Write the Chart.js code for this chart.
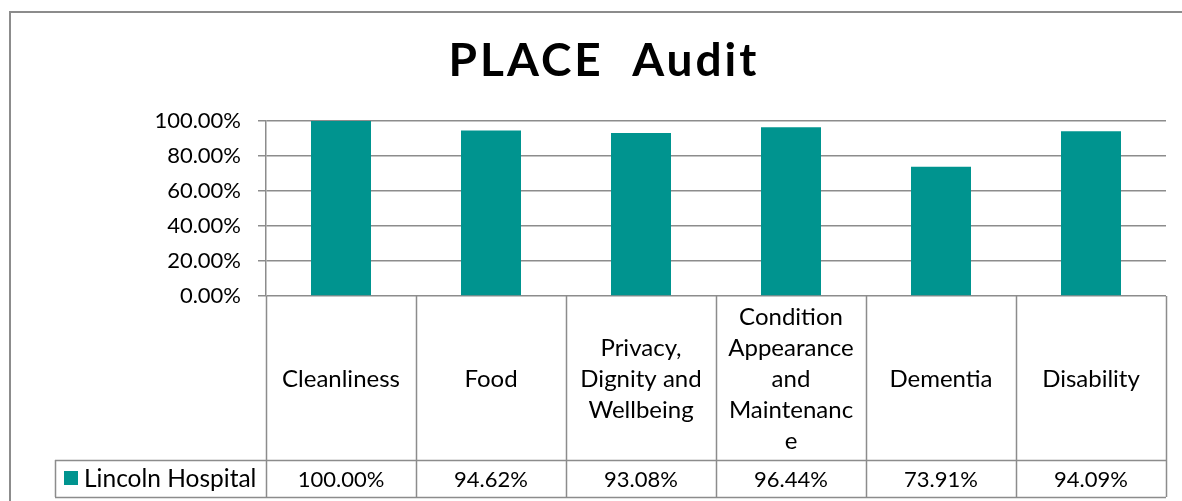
<!DOCTYPE html>
<html>
<head>
<meta charset="utf-8">
<title>PLACE Audit</title>
<script src="https://cdn.jsdelivr.net/npm/chart.js@4/dist/chart.umd.min.js"></script>
<style>
    html, body { margin: 0; padding: 0; background: #ffffff; }
    #chart { display: block; }
</style>
</head>
<body>
<canvas id="chart" width="1182" height="501"></canvas>
<script>
//data
var title = 'PLACE  Audit';
var categories = [
    ['Cleanliness'],
    ['Food'],
    ['Privacy,', 'Dignity and', 'Wellbeing'],
    ['Condition', 'Appearance', 'and', 'Maintenanc', 'e'],
    ['Dementia'],
    ['Disability']
];
var seriesName = 'Lincoln Hospital';
var scores = [1.0, 0.9462, 0.9308, 0.9644, 0.7391, 0.9409];
var yTicks = [0, 0.2, 0.4, 0.6, 0.8, 1.0];

var FONT = 'Lato, "Open Sans", "DejaVu Sans", sans-serif';
var BAR = '#00948f';
var LINE = '#8c8c8c';

function pct(v) {
    return (v * 100).toFixed(2) + '%';
}

//================================================================================
// frame, title and the data table under the plot (legend key + values)
//================================================================================
var dataTable = {
    id: 'dataTable',
    afterDraw: function (chart) {
        var ctx = chart.ctx;
        var area = chart.chartArea;
        var x = chart.scales.x;
        var n = categories.length;
        var step = (area.right - area.left) / n;

        var headTop = area.bottom;
        var headBot = 460;
        var rowBot = 497;
        var keyLeft = 55;

        ctx.save();

        // outer frame of the chart object
        ctx.strokeStyle = LINE;
        ctx.lineWidth = 2;
        ctx.beginPath();
        ctx.moveTo(10, 502);
        ctx.lineTo(10, 12);
        ctx.lineTo(1183, 12);
        ctx.stroke();

        // title
        ctx.fillStyle = '#000000';
        ctx.font = 'bold 46px ' + FONT;
        ctx.letterSpacing = '3px';
        ctx.textAlign = 'center';
        ctx.textBaseline = 'alphabetic';
        ctx.fillText(title, 604, 76);
        ctx.letterSpacing = '0px';

        // grid of the table
        ctx.lineWidth = 1.5;
        ctx.beginPath();
        for (var i = 0; i <= n; i++) {
            var cx = Math.round(area.left + i * step) + 0.5;
            ctx.moveTo(cx, headTop);
            ctx.lineTo(cx, rowBot);
        }
        ctx.moveTo(keyLeft, headBot + 0.5);
        ctx.lineTo(area.right, headBot + 0.5);
        ctx.moveTo(keyLeft, rowBot + 0.5);
        ctx.lineTo(area.right, rowBot + 0.5);
        ctx.moveTo(keyLeft + 0.5, headBot);
        ctx.lineTo(keyLeft + 0.5, rowBot);
        ctx.stroke();

        // header labels and values
        ctx.textAlign = 'center';
        ctx.textBaseline = 'middle';
        var lh = 31;
        for (var i = 0; i < n; i++) {
            var mid = x.getPixelForValue(i);
            var lines = categories[i];
            var y0 = (headTop + headBot) / 2 - (lines.length - 1) * lh / 2;
            ctx.font = '24px ' + FONT;
            for (var j = 0; j < lines.length; j++) {
                ctx.fillText(lines[j], mid, y0 + j * lh + 1);
            }
            ctx.font = '22px ' + FONT;
            ctx.fillText(pct(scores[i]), mid, (headBot + rowBot) / 2 + 1);
        }

        // legend key
        ctx.fillStyle = BAR;
        ctx.fillRect(64, 471, 14, 14);
        ctx.fillStyle = '#000000';
        ctx.textAlign = 'left';
        ctx.font = '24.5px ' + FONT;
        ctx.fillText(seriesName, 84, (headBot + rowBot) / 2 + 1);

        ctx.restore();
    }
};

//================================================================================
// chart
//================================================================================
var chart = new Chart(document.getElementById('chart'), {
    type: 'bar',
    data: {
        labels: categories,
        datasets: [{
            label: seriesName,
            data: scores,
            backgroundColor: BAR,
            categoryPercentage: 1.0,
            barPercentage: 0.4
        }]
    },
    options: {
        responsive: false,
        animation: false,
        layout: {
            padding: { left: 0, top: 121, right: 16, bottom: 205 }
        },
        plugins: {
            legend: { display: false },
            tooltip: { enabled: false },
            title: { display: false }
        },
        scales: {
            x: {
                display: false
            },
            y: {
                min: 0,
                max: 1,
                afterBuildTicks: function (axis) {
                    axis.ticks = yTicks.map(function (v) { return { value: v }; });
                },
                afterFit: function (axis) {
                    axis.width = 266;
                },
                grid: {
                    color: LINE,
                    lineWidth: 1.5,
                    tickLength: 8
                },
                border: { color: LINE, width: 1.5 },
                ticks: {
                    color: '#000000',
                    padding: 17,
                    font: { family: FONT, size: 22 },
                    callback: function (v) { return pct(v); }
                }
            }
        }
    },
    plugins: [dataTable]
});
</script>
</body>
</html>
